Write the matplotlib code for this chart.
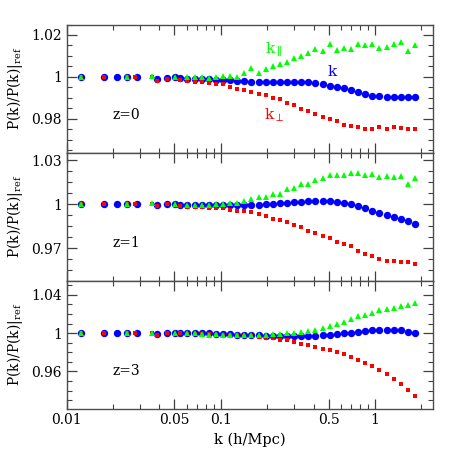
import matplotlib
matplotlib.use('Agg')
import matplotlib.pyplot as plt
import numpy as np
from matplotlib.ticker import FixedLocator, FuncFormatter, NullFormatter

plt.rcParams['font.family'] = ['DejaVu Serif']
plt.rcParams['mathtext.fontset'] = 'dejavuserif'

# k bins (h/Mpc): the low-k modes differ per estimator, then a common log grid
k_grid = [0.0607, 0.0675, 0.0751, 0.0835, 0.0929, 0.1033, 0.1149, 0.1277, 0.1421,
          0.1580, 0.1757, 0.1954, 0.2173, 0.2417, 0.2688, 0.2989, 0.3324, 0.3697,
          0.4111, 0.4572, 0.5085, 0.5655, 0.6289, 0.6994, 0.7778, 0.8650, 0.9620,
          1.070, 1.190, 1.323, 1.471, 1.636, 1.820]
k_low_tot = [0.0123, 0.0174, 0.0212, 0.0245, 0.0286, 0.0388, 0.0448, 0.0503, 0.0544]
k_low_par = [0.0123, 0.0245, 0.0360, 0.0503]
k_low_perp = [0.0123, 0.0174, 0.0245, 0.0276, 0.0360, 0.0388, 0.0448, 0.0544]

# z = 0
z0_tot = [1.0, 1.0, 1.0, 1.0, 1.0, 0.9989, 0.9997, 1.0002, 0.9997,
          0.9990, 0.9990, 0.9989, 0.9988, 0.9986, 0.9986, 0.9986, 0.9982, 0.9979,
          0.9978, 0.9978, 0.9978, 0.9978, 0.9978, 0.9978, 0.9978, 0.9978, 0.9975,
          0.9970, 0.9965, 0.9959, 0.9952, 0.9946, 0.9938, 0.9929, 0.9919, 0.9911,
          0.9908, 0.9906, 0.9906, 0.9906, 0.9906, 0.9903]
z0_par = [1.0, 1.0, 1.0005, 0.9998,
          1.0000, 0.9999, 0.9998, 0.9994, 1.0000, 1.0004, 1.0003, 1.0002, 1.0018,
          1.0042, 1.0020, 1.0038, 1.0052, 1.0062, 1.0072, 1.0089, 1.0101, 1.0113,
          1.0133, 1.0124, 1.0156, 1.0128, 1.0136, 1.0131, 1.0158, 1.0151, 1.0158,
          1.0140, 1.0141, 1.0157, 1.0168, 1.0123, 1.0151]
z0_perp = [1.0, 1.0, 1.0, 1.0, 1.0, 0.9981, 0.9991, 0.9987,
           0.9981, 0.9978, 0.9974, 0.9970, 0.9965, 0.9965, 0.9951, 0.9942, 0.9937,
           0.9930, 0.9920, 0.9914, 0.9898, 0.9894, 0.9878, 0.9865, 0.9847, 0.9836,
           0.9822, 0.9808, 0.9801, 0.9792, 0.9773, 0.9767, 0.9760, 0.9753, 0.9752,
           0.9760, 0.9750, 0.9760, 0.9757, 0.9754, 0.9754]

# z = 1
z1_tot = [1.0, 1.0, 1.0, 1.0, 1.0, 0.9993, 1.0, 1.0005, 0.9998,
          0.9993, 0.9993, 0.9993, 0.9993, 0.9993, 0.9995, 0.9993, 0.9993, 0.9993,
          0.9995, 0.9998, 1.0000, 1.0002, 1.0007, 1.0009, 1.0014, 1.0018, 1.0020,
          1.0025, 1.0023, 1.0023, 1.0018, 1.0009, 1.0000, 0.9989, 0.9973, 0.9957,
          0.9943, 0.9928, 0.9914, 0.9898, 0.9885, 0.9869]
z1_par = [1.0, 1.0, 1.0011, 1.0002,
          0.9998, 0.9998, 0.9998, 0.9993, 1.0005, 1.0005, 1.0007, 1.0007, 1.0025,
          1.0034, 1.0052, 1.0050, 1.0070, 1.0072, 1.0102, 1.0113, 1.0138, 1.0138,
          1.0163, 1.0177, 1.0197, 1.0197, 1.0197, 1.0213, 1.0213, 1.0199, 1.0204,
          1.0186, 1.0192, 1.0183, 1.0195, 1.0138, 1.0177]
z1_perp = [1.0, 1.0, 1.0, 1.0, 1.0, 0.9989, 1.0, 0.9991,
           0.9984, 0.9984, 0.9982, 0.9977, 0.9977, 0.9975, 0.9962, 0.9957, 0.9953,
           0.9950, 0.9934, 0.9923, 0.9900, 0.9896, 0.9878, 0.9860, 0.9842, 0.9821,
           0.9803, 0.9785, 0.9767, 0.9742, 0.9728, 0.9713, 0.9685, 0.9660, 0.9649,
           0.9626, 0.9617, 0.9613, 0.9608, 0.9604, 0.9593]

# z = 3
z3_tot = [1.0, 1.0, 1.0, 1.0, 1.0, 0.9993, 1.0, 1.0003, 1.0,
          1.0, 1.0, 1.0, 0.9997, 0.9993, 0.9993, 0.9990, 0.9986, 0.9983,
          0.9979, 0.9976, 0.9973, 0.9973, 0.9969, 0.9966, 0.9966, 0.9966, 0.9969,
          0.9973, 0.9979, 0.9986, 0.9993, 1.0, 1.0007, 1.0014, 1.0024, 1.0031,
          1.0038, 1.0038, 1.0038, 1.0031, 1.0017, 0.9997]
z3_par = [1.0, 1.0, 1.0007, 1.0003,
          1.0, 0.9997, 0.9993, 0.9986, 0.9990, 0.9986, 0.9983, 0.9979, 0.9976,
          0.9976, 0.9979, 0.9983, 0.9990, 0.9993, 0.9997, 1.0003, 1.0017, 1.0027,
          1.0034, 1.0051, 1.0072, 1.0096, 1.0120, 1.0148, 1.0175, 1.0192, 1.0216,
          1.0237, 1.0254, 1.0268, 1.0282, 1.0295, 1.0312]
z3_perp = [1.0, 1.0, 1.0, 1.0, 1.0, 0.9986, 1.0, 1.0,
           0.9993, 0.9993, 0.9990, 0.9990, 0.9986, 0.9983, 0.9979, 0.9976, 0.9973,
           0.9966, 0.9959, 0.9952, 0.9945, 0.9931, 0.9924, 0.9911, 0.9890, 0.9876,
           0.9856, 0.9839, 0.9821, 0.9804, 0.9784, 0.9753, 0.9725, 0.9688, 0.9657,
           0.9616, 0.9571, 0.9523, 0.9468, 0.9406, 0.9344]

panels = [
    ('z=0', z0_tot, z0_par, z0_perp, (0.964, 1.025), [0.98, 1.0, 1.02], 0.005),
    ('z=1', z1_tot, z1_par, z1_perp, (0.9481, 1.0352), [0.97, 1.0, 1.03], 0.0075),
    ('z=3', z3_tot, z3_par, z3_perp, (0.9213, 1.055), [0.96, 1.0, 1.04], 0.01),
]

k_tot = k_low_tot + k_grid
k_par = k_low_par + k_grid
k_perp = k_low_perp + k_grid

fig, axes = plt.subplots(3, 1, figsize=(4.58, 4.58), dpi=100, sharex=True)
fig.subplots_adjust(left=0.1456, right=0.9454, top=0.9465, bottom=0.108, hspace=0)

x_major = [0.01, 0.05, 0.1, 0.5, 1]
x_minor = [0.02, 0.03, 0.04, 0.06, 0.07, 0.08, 0.09,
           0.2, 0.3, 0.4, 0.6, 0.7, 0.8, 0.9, 2]

for ax, (ztxt, tot, par, perp, ylim, yticks, ystep) in zip(axes, panels):
    ax.plot(k_tot, tot, 'o', color='#0000ff', ms=5.3, mew=0, zorder=3)
    ax.plot(k_perp, perp, 's', color='#ff0000', ms=3.5, mew=0, zorder=4)
    ax.plot(k_par, par, '^', color='#00ff00', ms=4.3, mew=0, zorder=5)

    ax.set_xscale('log')
    ax.set_xlim(0.01, 2.38)
    ax.set_ylim(*ylim)

    ax.xaxis.set_major_locator(FixedLocator(x_major))
    ax.xaxis.set_minor_locator(FixedLocator(x_minor))
    ax.xaxis.set_major_formatter(FuncFormatter(lambda v, p: f'{v:g}'))
    ax.xaxis.set_minor_formatter(NullFormatter())

    ax.yaxis.set_major_locator(FixedLocator(yticks))
    n = int(round((ylim[1] - 1.0) / ystep)) + 1
    m = int(round((1.0 - ylim[0]) / ystep)) + 1
    ax.yaxis.set_minor_locator(FixedLocator([1.0 + ystep * i for i in range(-m, n + 1)]))
    ax.yaxis.set_major_formatter(FuncFormatter(lambda v, p: f'{v:g}'))

    ax.tick_params(which='both', direction='in', top=True, right=True,
                   color='0.25', labelsize=10)
    ax.tick_params(which='major', length=7, width=0.9)
    ax.tick_params(which='minor', length=3.5, width=0.8)
    for s in ax.spines.values():
        s.set_color('0.3')
        s.set_linewidth(1.0)

    ax.set_ylabel(r'P(k)/P(k)$|_{\rm ref}$', fontsize=10)
    ax.yaxis.set_label_coords(-0.115, 0.5)
    ax.text(0.126, 0.29, ztxt, transform=ax.transAxes, fontsize=10,
            ha='left', va='center')

axes[0].text(0.566, 0.80, r'$\mathrm{k}_{\parallel}$', color='#00ff00',
             transform=axes[0].transAxes, fontsize=11, ha='center', va='center')
axes[0].text(0.727, 0.63, r'$\mathrm{k}$', color='#0000ff',
             transform=axes[0].transAxes, fontsize=11, ha='center', va='center')
axes[0].text(0.566, 0.29, r'$\mathrm{k}_{\perp}$', color='#ff0000',
             transform=axes[0].transAxes, fontsize=11, ha='center', va='center')

axes[2].set_xlabel('k (h/Mpc)', fontsize=10.5, labelpad=4)

fig.savefig('out.png', dpi=100)
